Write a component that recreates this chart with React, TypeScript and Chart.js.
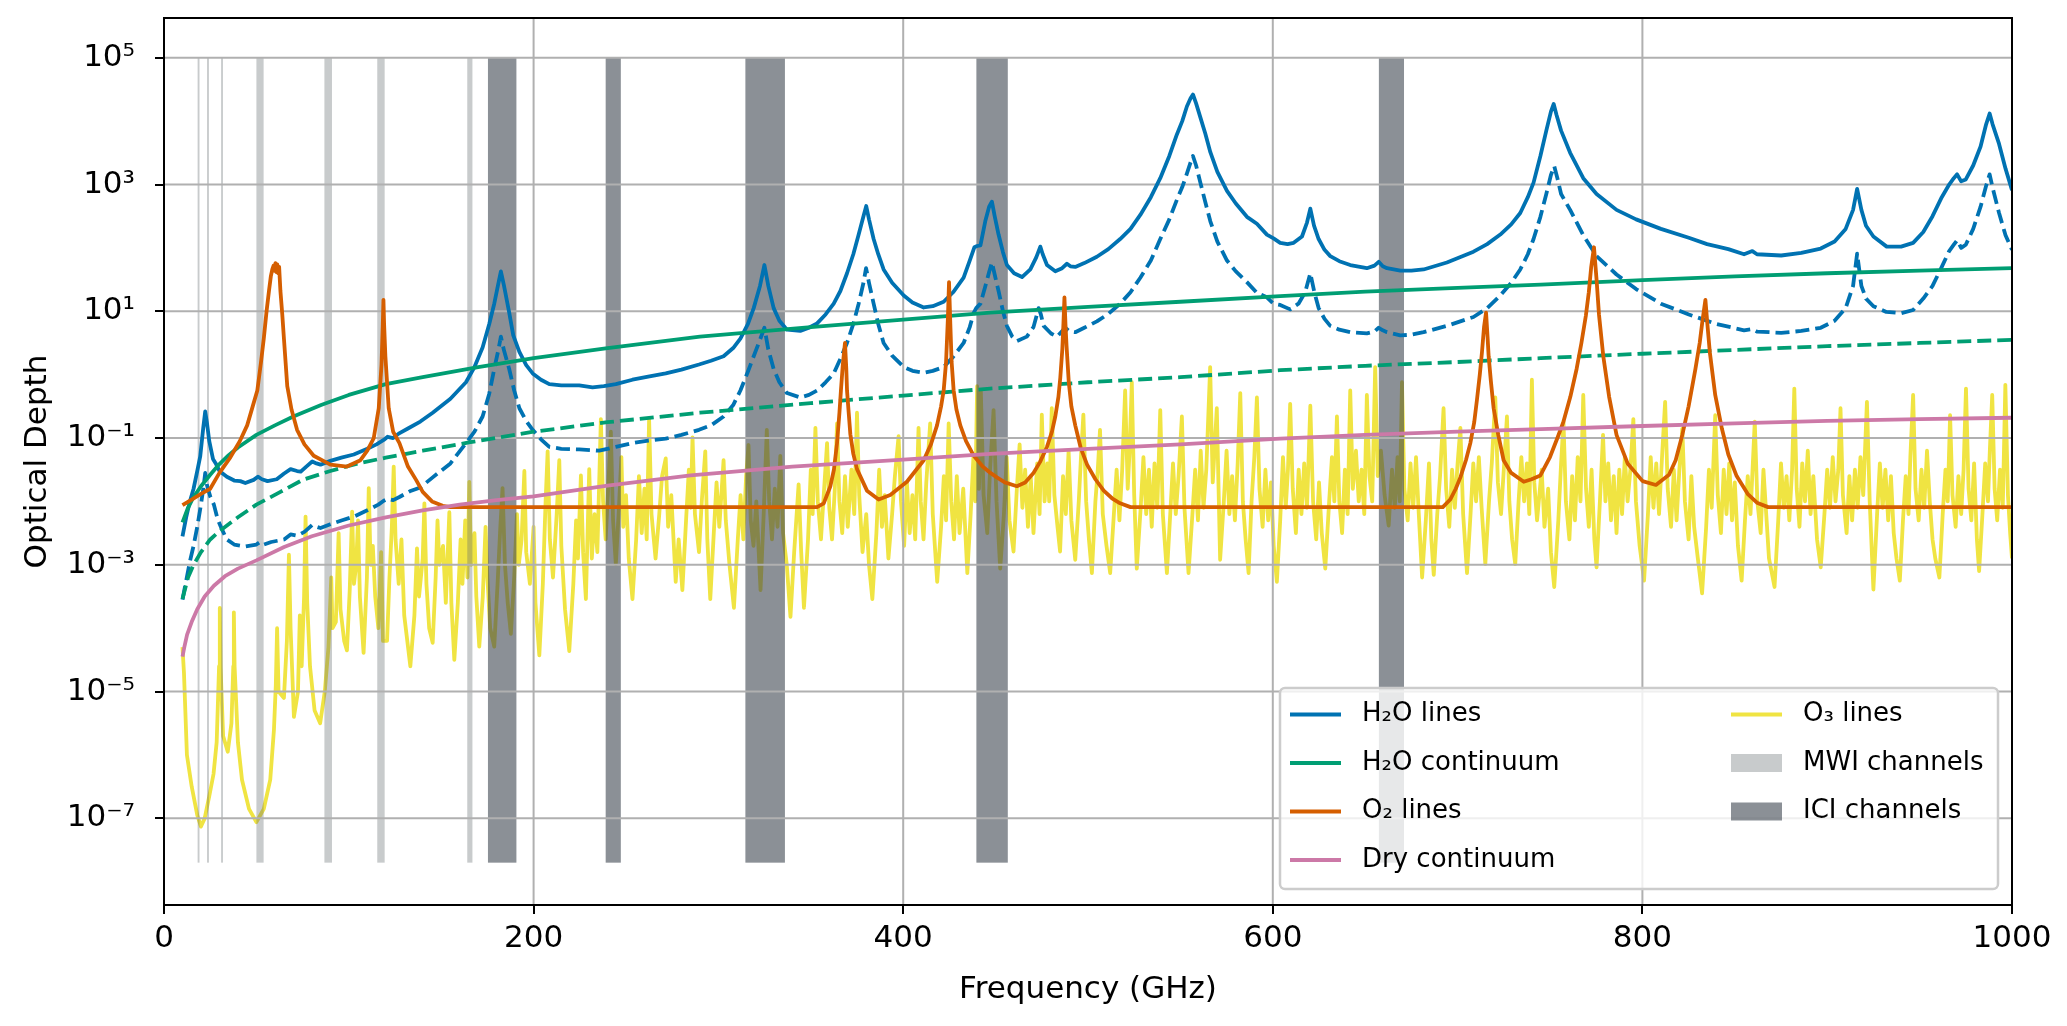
import { useEffect, useRef } from "react"
import { Chart, registerables } from "chart.js"

Chart.register(...registerables)

// each curve: [frequency (GHz), log10 of optical depth]
type Pair = [number, number]

const xTicks = [0, 200, 400, 600, 800, 1000]
const yTickExponents = [-7, -5, -3, -1, 1, 3, 5]
const yTickLabels = ["10⁻⁷", "10⁻⁵", "10⁻³", "10⁻¹", "10¹", "10³", "10⁵"]

const h2oLines: Pair[] = [
  [10, -2.55], [12, -2.25], [14, -2.0], [16, -1.8], [18, -1.52], [19.6, -1.29], [21.2, -0.85], [22.3, -0.58],
  [23.2, -0.75], [24.5, -1.05], [26.5, -1.33], [28, -1.4], [30, -1.52], [34, -1.61], [38, -1.67], [41.3, -1.68],
  [44, -1.71], [48.5, -1.66], [50.8, -1.61], [53, -1.65], [56, -1.68], [61, -1.65], [65, -1.56], [68.5, -1.49],
  [72, -1.52], [74, -1.53], [77, -1.45], [80.2, -1.37], [82.5, -1.4], [84.7, -1.42], [90, -1.36], [96, -1.31],
  [102.7, -1.26], [110, -1.17], [115, -1.1], [118.9, -1.03], [121, -0.98], [124, -1.0], [127, -0.93], [132, -0.85],
  [138.7, -0.74], [145.4, -0.6], [155, -0.38], [163.4, -0.12], [168, 0.12], [172.4, 0.43], [176, 0.8], [178.7, 1.12],
  [181, 1.45], [182.3, 1.63], [184, 1.4], [186.8, 0.98], [189, 0.62], [192.3, 0.36], [196, 0.15], [199.5, 0.02],
  [204, -0.08], [208.5, -0.15], [215, -0.17], [224.7, -0.17], [231.9, -0.2], [238, -0.18], [244.5, -0.15],
  [253.5, -0.08], [262, -0.03], [271.5, 0.02], [280, 0.08], [289.5, 0.16], [296, 0.22], [302.8, 0.29], [308, 0.42],
  [311.9, 0.57], [316, 0.8], [319.1, 1.05], [322.5, 1.4], [324.9, 1.73], [327, 1.4], [329.9, 1.05], [333, 0.85],
  [337.1, 0.71], [344.3, 0.69], [349, 0.74], [353.4, 0.81], [358, 0.95], [362.4, 1.12], [366, 1.32], [369.6, 1.6],
  [373, 1.9], [375.9, 2.21], [378.5, 2.5], [380, 2.66], [381.5, 2.45], [384, 2.14], [386.5, 1.9], [389.4, 1.66],
  [394, 1.45], [400.3, 1.25], [405, 1.14], [411.1, 1.06], [416, 1.08], [421.9, 1.15], [427, 1.3], [432.7, 1.53],
  [436, 1.8], [438.5, 2.01], [440, 2.03], [441.8, 2.04], [444.4, 2.42], [446.5, 2.65], [448, 2.73], [449.5, 2.5],
  [451.6, 2.21], [454, 1.93], [456.1, 1.73], [460, 1.6], [464.3, 1.54], [468.8, 1.66], [472, 1.85], [474.2, 2.02],
  [475.5, 1.9], [477.8, 1.73], [482.3, 1.63], [486, 1.68], [488.6, 1.75], [490.5, 1.71], [493.1, 1.7], [498, 1.76],
  [504.8, 1.86], [511, 1.98], [517.4, 2.14], [523, 2.3], [528.3, 2.52], [534, 2.8], [539.1, 3.1], [544, 3.45],
  [548.1, 3.79], [551, 4.0], [553.5, 4.23], [555.5, 4.36], [556.8, 4.42], [558.5, 4.28], [560.8, 4.06], [563.5, 3.8],
  [566.2, 3.51], [570, 3.2], [575.2, 2.9], [580, 2.7], [586, 2.49], [591.4, 2.38], [596.8, 2.21], [600.4, 2.15],
  [604, 2.08], [608, 2.06], [611.3, 2.08], [615.8, 2.18], [618.5, 2.4], [620.3, 2.62], [622.3, 2.35], [624.8, 2.14],
  [628, 1.97], [631.1, 1.87], [636, 1.79], [641.9, 1.73], [650.9, 1.68], [655, 1.72], [657.3, 1.78], [659.5, 1.71],
  [661.8, 1.68], [669, 1.64], [675, 1.64], [681.6, 1.66], [694.2, 1.77], [708.6, 1.94], [716, 2.06], [723.1, 2.21],
  [729, 2.37], [733.9, 2.55], [738, 2.8], [741.1, 3.03], [744.8, 3.45], [748, 3.85], [750.5, 4.15], [752, 4.27],
  [753.5, 4.1], [756, 3.85], [760.9, 3.5], [768, 3.1], [775.2, 2.85], [786, 2.6], [796.6, 2.45], [810, 2.3],
  [825.1, 2.16], [835, 2.06], [846.5, 1.98], [855, 1.9], [859.5, 1.95], [862, 1.9], [875.1, 1.88], [886, 1.92],
  [896.5, 1.99], [904, 2.1], [910, 2.3], [914, 2.6], [916.2, 2.93], [918.5, 2.6], [921, 2.35], [925, 2.18],
  [932.2, 2.02], [940, 2.02], [946.5, 2.08], [952, 2.25], [957, 2.5], [962, 2.8], [966, 3.0], [968.5, 3.1],
  [970.3, 3.16], [972.5, 3.05], [975, 3.08], [979, 3.3], [983, 3.6], [986, 3.95], [987.9, 4.12], [989.5, 3.95],
  [993, 3.64], [996.5, 3.25], [1000, 2.91],
]

const h2oLinesDashed: Pair[] = [
  [10, -3.55], [12, -3.25], [14, -2.95], [16, -2.7], [18, -2.4], [20, -2.05], [21.5, -1.75], [22.3, -1.55],
  [23.3, -1.75], [25, -1.92], [27, -2.05], [29, -2.28], [31.5, -2.45], [34, -2.6], [38, -2.68], [44, -2.71],
  [50, -2.68], [52, -2.64], [54, -2.68], [58, -2.64], [65, -2.6], [68.5, -2.52], [72, -2.54], [76, -2.48],
  [80.2, -2.37], [82.5, -2.4], [84.7, -2.42], [90, -2.36], [96, -2.3], [102.7, -2.24], [110, -2.14], [116, -2.05],
  [118.9, -1.99], [121, -1.96], [124, -1.98], [127.4, -1.93], [133, -1.84], [138.7, -1.78], [145.4, -1.62],
  [155, -1.4], [163.4, -1.08], [168, -0.9], [172.4, -0.66], [176, -0.3], [178.7, 0.09], [181, 0.4], [182.3, 0.6],
  [184, 0.38], [186.8, 0.09], [189.5, -0.25], [192.3, -0.53], [196, -0.73], [199.5, -0.87], [204, -1.02],
  [208.5, -1.14], [215, -1.17], [224.7, -1.18], [235.5, -1.2], [244.5, -1.14], [253.5, -1.08], [262, -1.04],
  [271.5, -1.01], [280, -0.95], [289.5, -0.87], [296, -0.8], [302.8, -0.66], [308, -0.48], [311.9, -0.25],
  [316, 0.05], [319.1, 0.29], [322.5, 0.55], [324.9, 0.74], [327, 0.4], [329.9, 0.09], [333, -0.12], [337.1, -0.29],
  [344.3, -0.36], [349, -0.32], [353.4, -0.25], [358, -0.12], [362.4, 0.02], [366, 0.25], [369.6, 0.5], [373, 0.8],
  [375.9, 1.12], [378.5, 1.45], [379.9, 1.68], [381.5, 1.45], [384, 1.12], [386.5, 0.8], [389.4, 0.5], [394, 0.3],
  [400.3, 0.12], [405, 0.06], [411.1, 0.03], [416, 0.06], [421.9, 0.12], [427, 0.28], [432.7, 0.5], [436, 0.75],
  [438.2, 0.98], [439.5, 1.05], [441.8, 1.12], [444.4, 1.39], [446.5, 1.62], [448, 1.77], [449.5, 1.58],
  [451.6, 1.32], [454, 1.0], [456.1, 0.77], [459, 0.6], [461.5, 0.53], [466.9, 0.6], [470.5, 0.75], [473.3, 1.05],
  [474.5, 0.95], [476, 0.77], [480, 0.65], [483.2, 0.6], [487.7, 0.74], [490, 0.68], [493.1, 0.67], [498, 0.74],
  [504.8, 0.84], [511, 0.96], [517.4, 1.12], [523, 1.3], [528.3, 1.53], [534, 1.8], [539.1, 2.14], [544, 2.45],
  [548.1, 2.76], [551, 2.96], [553.5, 3.17], [555.5, 3.35], [556.8, 3.45], [558.5, 3.3], [560.8, 3.03],
  [563.5, 2.72], [566.2, 2.42], [570, 2.1], [575.2, 1.8], [580, 1.63], [586, 1.46], [591.4, 1.29], [596.8, 1.22],
  [600.4, 1.12], [604, 1.1], [609.4, 1.03], [613.9, 1.12], [617.5, 1.3], [620.3, 1.6], [622.5, 1.3], [624.8, 1.05],
  [628, 0.88], [631.1, 0.77], [636, 0.71], [641.9, 0.67], [650.9, 0.65], [655, 0.68], [657.3, 0.74], [659.5, 0.7],
  [661.8, 0.67], [669, 0.62], [675, 0.63], [681.6, 0.67], [694.2, 0.77], [708.6, 0.91], [716, 1.05], [723.1, 1.25],
  [729, 1.45], [733.9, 1.66], [738, 1.9], [741.1, 2.14], [744.8, 2.49], [748, 2.85], [750.5, 3.15], [752.3, 3.29],
  [754, 3.1], [756, 2.85], [760.9, 2.6], [768, 2.2], [775.2, 1.87], [786, 1.58], [796.6, 1.35], [810, 1.12],
  [825.1, 0.95], [840, 0.8], [855, 0.7], [859.5, 0.72], [862, 0.68], [875.1, 0.66], [886, 0.69], [896.5, 0.74],
  [904, 0.85], [910, 1.05], [914, 1.4], [916.2, 1.91], [918.5, 1.4], [921, 1.2], [925, 1.08], [932, 0.99],
  [940, 0.97], [946.5, 1.02], [952, 1.2], [957, 1.4], [962, 1.7], [966, 1.95], [968.5, 2.05], [970.3, 2.12],
  [972.5, 2.0], [975, 2.05], [979, 2.3], [983, 2.65], [986, 2.98], [987.9, 3.16], [989.5, 2.95], [993, 2.55],
  [996.5, 2.2], [1000, 1.97],
]

const h2oContinuum: Pair[] = [
  [10, -2.33], [13, -2.1], [16, -1.93], [20, -1.76], [25, -1.58], [30, -1.41], [35, -1.27], [40, -1.15],
  [50, -0.95], [60, -0.8], [70, -0.66], [85, -0.48], [100, -0.32], [120, -0.15], [140, -0.04], [170, 0.12],
  [200, 0.26], [240, 0.42], [290, 0.6], [350, 0.75], [400, 0.87], [447, 0.98], [500, 1.07], [550, 1.15],
  [604, 1.24], [650, 1.31], [700, 1.37], [745, 1.42], [800, 1.49], [850, 1.55], [900, 1.6], [950, 1.64],
  [1000, 1.68],
]

const h2oContinuumDashed: Pair[] = [
  [10, -3.54], [13, -3.2], [16, -3.0], [20, -2.8], [25, -2.6], [30, -2.47], [40, -2.25], [50, -2.05],
  [63, -1.85], [75, -1.66], [90, -1.52], [105, -1.4], [120, -1.31], [140, -1.2], [165, -1.07], [200, -0.9],
  [240, -0.75], [290, -0.6], [350, -0.45], [400, -0.33], [447, -0.22], [500, -0.12], [550, -0.04], [604, 0.07],
  [650, 0.14], [700, 0.2], [745, 0.26], [800, 0.33], [850, 0.39], [900, 0.45], [950, 0.5], [1000, 0.55],
]

const o2Lines: Pair[] = [
  [10, -2.06], [15, -1.97], [20, -1.88], [25, -1.8], [30, -1.55], [36, -1.3], [41, -1.05], [45, -0.8],
  [48, -0.5], [50.5, -0.25], [52.5, 0.2], [54, 0.57], [55.5, 1.0], [56.8, 1.32], [57.8, 1.55], [58.6, 1.66],
  [59.3, 1.72], [59.8, 1.64], [60.3, 1.76], [60.8, 1.62], [61.3, 1.74], [61.8, 1.6], [62.3, 1.7], [63, 1.32],
  [64, 0.95], [64.9, 0.57], [66.7, -0.18], [69, -0.55], [72, -0.87], [76, -1.1], [81, -1.28], [90, -1.42],
  [99, -1.45], [106.3, -1.35], [110, -1.2], [113.5, -1.0], [116.2, -0.53], [117.7, 0.16], [118.4, 0.8],
  [118.75, 1.18], [119.1, 0.8], [119.8, 0.29], [121.6, -0.53], [124, -0.9], [127.4, -1.08], [132, -1.45],
  [136.4, -1.66], [140, -1.85], [145, -2.0], [150.8, -2.07], [155, -2.09], [353.4, -2.09], [357, -2.03],
  [360.6, -1.76], [362.5, -1.5], [364.2, -1.08], [365.5, -0.6], [366.3, -0.25], [367.3, 0.15], [368.5, 0.5],
  [369.2, 0.1], [369.6, -0.25], [370.5, -0.6], [371.4, -0.94], [373, -1.25], [375, -1.49], [380.4, -1.83],
  [386.7, -1.97], [393, -1.9], [402, -1.69], [411.1, -1.35], [415, -1.1], [418.3, -0.8], [420.5, -0.5],
  [421.9, -0.25], [423.2, 0.2], [424.2, 0.9], [424.8, 1.46], [425.5, 0.8], [426.2, 0.2], [427.3, -0.25],
  [428.8, -0.55], [430.9, -0.8], [434, -1.05], [438.2, -1.28], [443, -1.45], [447.2, -1.55], [450.7, -1.62],
  [455, -1.7], [461.5, -1.76], [466, -1.7], [470.5, -1.55], [474, -1.38], [477.8, -1.14], [480.5, -0.9],
  [482.3, -0.66], [484, -0.35], [485, -0.05], [486.1, 0.4], [486.7, 0.8], [487.25, 1.22], [487.8, 0.8],
  [488.4, 0.45], [489.6, -0.12], [491, -0.5], [493.1, -0.8], [496, -1.15], [499.5, -1.42], [504, -1.65],
  [508.5, -1.83], [513, -1.95], [517.4, -2.03], [523, -2.09], [692, -2.09], [696, -1.97], [699, -1.8],
  [701.5, -1.62], [704.5, -1.35], [706.9, -1.08], [709, -0.75], [710.5, -0.39], [712, 0.0], [713.2, 0.36],
  [714.3, 0.75], [715.4, 0.98], [716.2, 0.6], [716.8, 0.29], [718, -0.1], [719.5, -0.53], [722, -0.95],
  [724.9, -1.35], [729, -1.55], [735.8, -1.69], [740, -1.65], [744.8, -1.59], [750, -1.3], [754, -1.0],
  [757.3, -0.74], [761, -0.35], [764.4, 0.09], [767, 0.5], [769.4, 0.93], [771, 1.3], [772.3, 1.7],
  [773.8, 2.01], [775.2, 1.5], [776.5, 0.95], [778.8, 0.3], [782, -0.35], [786, -0.95], [792, -1.4],
  [800.1, -1.68], [807.3, -1.74], [814.4, -1.58], [818, -1.35], [821.6, -0.95], [825, -0.5], [828.7, 0.09],
  [831, 0.5], [832.5, 0.85], [834.1, 1.18], [835.3, 0.75], [836.5, 0.35], [839.4, -0.32], [843, -0.85],
  [846.5, -1.26], [851, -1.6], [857.2, -1.89], [862, -2.02], [868, -2.09], [1000, -2.09],
]

const dryContinuum: Pair[] = [
  [10, -4.45], [11, -4.3], [12.5, -4.1], [15, -3.9], [18, -3.7], [22, -3.5], [27, -3.33], [33, -3.18],
  [40, -3.06], [50, -2.93], [65, -2.72], [80, -2.55], [100, -2.38], [120, -2.25], [140, -2.14], [160, -2.05],
  [180, -1.98], [200, -1.92], [240, -1.75], [285, -1.59], [340, -1.45], [400, -1.34], [447, -1.25], [500, -1.17],
  [550, -1.1], [604, -1.01], [650, -0.95], [700, -0.9], [745, -0.86], [800, -0.81], [850, -0.77], [900, -0.73],
  [950, -0.7], [1000, -0.68],
]

const o3Lines: Pair[] = [
  [10, -4.3], [10.8, -4.7], [12.4, -6.0], [15, -6.5], [18, -6.95], [20, -7.13], [22, -7.0], [24.5, -6.65],
  [26.8, -6.3], [28.5, -5.8], [29.8, -4.6], [30.2, -3.68], [30.6, -4.6], [32, -5.7], [34.5, -5.95], [36.5, -5.5],
  [37.5, -4.6], [37.8, -3.75], [38.2, -4.6], [40, -5.8], [42.2, -6.39], [46, -6.85], [50, -7.06], [54, -6.85],
  [57.5, -6.39], [59.5, -5.6], [60.5, -4.9], [61.2, -4.0], [62, -5.0], [64.9, -5.1], [66.5, -4.2], [67.6, -2.84],
  [68.5, -4.0], [70.3, -5.4], [72.5, -5.0], [73.5, -3.8], [74.5, -4.6], [75.8, -3.5], [76.6, -2.24], [77.5, -3.6],
  [79, -4.6], [81.5, -5.3], [84.5, -5.5], [87, -5.0], [89, -4.3], [90.5, -3.2], [91.2, -4.0], [93, -3.9],
  [94.5, -2.5], [95.5, -3.7], [97.5, -4.2], [99, -4.35], [100.5, -3.4], [101.8, -2.16], [102.8, -3.3], [104, -3.0],
  [105, -2.3], [106, -3.5], [108, -4.39], [109.8, -3.2], [110.8, -1.79], [111.8, -3.0], [113, -2.7], [114.3, -3.5],
  [116, -4.0], [117.5, -2.8], [118.5, -4.2], [120.7, -4.2], [122, -3.2], [123.3, -2.4], [124.3, -1.45],
  [125.3, -2.6], [127, -3.3], [128.5, -2.6], [130, -3.8], [133.3, -4.6], [135.5, -3.8], [136.9, -2.74], [138, -3.5],
  [140, -2.9], [140.9, -2.03], [142, -3.3], [143.5, -4.0], [145.4, -4.23], [147, -3.2], [148, -2.3], [149, -3.0],
  [151, -2.7], [152.5, -3.6], [154.4, -2.17], [155.5, -3.6], [157.1, -4.5], [159, -3.6], [160.5, -2.6],
  [161.5, -3.3], [163, -2.3], [164.2, -3.2], [165.2, -1.69], [166.2, -3.0], [168, -2.5], [169, -3.5],
  [170.6, -4.29], [172.5, -3.5], [174, -2.4], [175, -3.2], [176.5, -4.0], [178.7, -4.29], [180.5, -3.3],
  [182, -2.4], [183.2, -1.79], [184.5, -3.0], [186, -3.6], [187.7, -4.09], [189.5, -3.2], [191, -2.2], [192, -3.0],
  [193.5, -2.6], [195, -1.52], [196, -2.8], [198, -3.3], [200, -2.4], [201, -3.6], [203.1, -4.43], [205, -3.3],
  [206.5, -2.0], [207.6, -1.21], [208.8, -2.6], [210.5, -3.2], [212.5, -2.2], [213.9, -1.35], [215, -2.7],
  [217, -3.7], [219.3, -4.36], [221.5, -3.3], [223, -2.3], [224, -2.9], [225.6, -1.59], [226.8, -2.8],
  [228.3, -3.54], [230.1, -1.49], [231.5, -2.9], [233, -2.2], [234.5, -2.8], [236.4, -0.7], [237.6, -2.0],
  [239, -2.6], [240.5, -1.7], [241.8, -0.9], [243, -2.3], [244.5, -2.99], [246, -2.2], [247.5, -1.3],
  [248.5, -2.4], [250, -1.9], [251.5, -2.9], [253.5, -3.54], [255.5, -2.6], [257, -1.6], [258.5, -2.5],
  [260, -1.8], [261.2, -2.6], [262.5, -0.7], [263.8, -2.2], [266, -2.9], [268, -2.2], [269.5, -1.6],
  [271.5, -1.32], [272.8, -2.4], [274.5, -1.9], [276.9, -3.27], [278.5, -2.6], [280.5, -3.4], [282.5, -2.3],
  [284, -1.5], [285, -2.1], [286, -0.99], [287.3, -2.2], [289.5, -2.8], [291, -2.0], [292.9, -1.21], [294, -2.6],
  [295.6, -3.54], [297.5, -2.5], [299, -1.7], [300.5, -2.4], [302.8, -1.35], [304, -2.3], [306, -3.0],
  [308.4, -3.68], [310.5, -2.6], [312, -1.9], [313.5, -2.6], [315, -1.6], [316.3, -1.11], [317.5, -2.3],
  [319, -2.7], [320.5, -2.0], [322.8, -3.4], [324.5, -2.2], [326.2, -0.87], [327.5, -2.0], [329, -2.6],
  [330.5, -1.8], [332, -2.4], [333.5, -1.28], [335, -2.5], [337, -3.0], [339, -3.82], [341, -2.8], [343.4, -1.73],
  [344.8, -2.8], [346.3, -3.68], [348.5, -2.6], [350, -1.5], [351, -2.2], [352.5, -0.84], [353.8, -2.0],
  [355.5, -2.6], [357, -1.9], [358.8, -1.08], [360, -2.1], [361.5, -2.6], [363, -1.8], [364.2, -0.77],
  [365.5, -2.0], [367, -2.5], [368.5, -1.6], [370, -2.4], [372, -1.5], [373.5, -2.2], [375, -0.6], [376.2, -1.9],
  [378, -2.8], [380, -2.2], [381.5, -3.0], [383.3, -3.54], [385.5, -2.5], [387, -1.5], [388.5, -2.4], [390, -1.9],
  [392, -2.9], [394, -2.2], [395.5, -1.6], [397.5, -0.97], [398.8, -2.0], [400.5, -2.7], [402, -1.7],
  [403.5, -2.5], [405, -1.9], [406.5, -2.6], [408.3, -0.84], [409.5, -2.0], [411, -2.6], [412.5, -1.7],
  [414.6, -0.77], [416, -2.2], [418.4, -3.27], [420.5, -2.4], [422, -1.6], [423.2, -2.3], [424.6, -0.77],
  [426, -2.0], [427.5, -2.6], [429, -1.6], [430.5, -2.5], [432.5, -1.8], [434.7, -3.13], [436.5, -2.2],
  [438, -1.3], [439, -2.0], [440, -0.18], [441, -1.8], [442, -0.25], [443.5, -1.9], [445.5, -2.5], [447, -1.5],
  [448.9, -0.56], [450.5, -2.0], [452.5, -3.06], [454.5, -2.2], [456, -1.3], [457.5, -2.3], [459.7, -2.79],
  [461.5, -1.8], [463, -1.1], [464.5, -2.1], [466, -1.5], [467.5, -2.4], [469, -1.6], [470.5, -2.5],
  [472.5, -1.4], [473.8, -2.2], [475, -0.63], [476.5, -2.0], [478, -1.4], [479, -2.0], [480.4, -0.53],
  [481.8, -1.9], [483.5, -2.4], [484.9, -2.79], [486.5, -1.6], [488, -2.2], [489.5, -1.2], [491, -2.3],
  [493.1, -2.92], [495, -2.0], [496.2, -1.3], [497.5, -0.63], [499, -2.0], [500.5, -2.6], [502.1, -3.13],
  [504, -2.0], [505.3, -1.5], [506.5, -0.87], [508, -2.2], [510, -2.7], [512, -3.13], [514, -2.2], [515.5, -1.5],
  [517, -2.3], [518.5, -1.5], [520.1, -0.25], [521.5, -1.8], [522.5, -1.2], [523.7, -0.12], [525, -1.9],
  [526.4, -3.06], [528.5, -2.1], [530, -1.3], [531.5, -2.2], [533, -1.5], [534.5, -2.4], [536, -1.4],
  [537.5, -2.1], [539.1, -0.56], [540.5, -2.2], [542.7, -3.13], [544.5, -2.2], [546, -1.4], [547.5, -2.2],
  [549, -1.6], [550.8, -0.66], [552.2, -2.1], [554.4, -3.13], [556.5, -2.2], [558, -1.5], [559.5, -2.3],
  [561, -1.2], [562.5, -2.1], [564, -1.5], [566.1, 0.12], [567.5, -1.7], [569.7, -0.53], [571.5, -2.92],
  [573.5, -2.0], [575, -1.2], [576.5, -2.2], [578, -1.6], [579.5, -2.3], [581, -1.4], [582.4, -0.29],
  [583.8, -2.0], [585.3, -2.6], [586.9, -3.13], [588.5, -2.0], [590, -1.3], [591.4, -0.36], [592.8, -1.8],
  [594.5, -2.4], [596, -1.5], [597.5, -2.3], [599, -1.7], [600.5, -2.7], [602.2, -3.27], [604, -2.3],
  [605.5, -1.3], [607, -2.1], [608.2, -1.5], [609.4, -0.46], [610.8, -1.8], [612.5, -2.5], [614, -1.5],
  [615.5, -2.2], [617, -1.4], [618.5, -2.1], [620.3, -0.49], [621.8, -2.0], [623.5, -2.6], [625, -1.7],
  [626.5, -2.5], [628.4, -3.06], [630.5, -2.0], [632, -1.3], [633.3, -2.0], [634.7, -0.66], [636, -2.0],
  [637.5, -2.5], [639, -1.5], [640.5, -2.2], [641.9, -0.25], [643.3, -1.8], [645, -1.2], [646.5, -2.0],
  [648, -1.5], [649.5, -2.2], [650.9, -0.32], [652.3, -1.6], [653.8, -2.0], [655.4, 0.12], [656.8, -1.6],
  [658.5, -1.2], [660.5, -1.9], [662.7, -2.38], [664.5, -1.5], [666, -2.1], [667.5, -1.3], [668.7, -2.0],
  [669.9, -0.12], [671.2, -1.8], [673, -2.3], [674.5, -1.4], [676, -2.1], [677.5, -1.3], [679, -2.2],
  [680.8, -3.2], [682.8, -2.3], [684.5, -1.4], [685.8, -2.6], [687.1, -3.16], [689, -2.2], [690.5, -1.6],
  [692.4, -0.53], [693.8, -1.8], [695.5, -2.4], [697, -1.5], [698.5, -2.1], [700, -1.4], [701.5, -0.84],
  [703, -2.2], [705.1, -3.13], [707, -2.2], [708.5, -1.4], [710, -2.0], [711.5, -1.3], [713, -2.1],
  [715, -2.99], [717, -2.0], [718.5, -1.4], [720.4, -0.36], [721.8, -1.7], [723.5, -2.2], [725, -1.5],
  [726.7, -0.66], [728, -2.0], [729.5, -2.6], [731.2, -2.99], [733, -2.0], [734.5, -1.3], [736, -2.0],
  [737.5, -1.4], [738.8, -2.2], [740.2, -0.08], [741.5, -1.7], [743, -2.3], [745.5, -1.5], [747, -2.4],
  [749, -1.8], [750.5, -2.8], [752.3, -3.35], [754.5, -2.3], [756, -1.4], [757.3, -0.74], [758.6, -2.0],
  [760.5, -2.6], [762, -1.6], [763.5, -2.3], [765, -1.3], [766.5, -2.0], [768, -0.32], [769.5, -1.8],
  [771, -2.4], [772.5, -1.5], [774, -2.6], [775.2, -3.04], [777, -2.0], [778.7, -0.95], [780, -2.0],
  [781.5, -1.4], [783, -2.3], [784.5, -1.6], [786, -2.5], [787.5, -1.5], [789, -2.2], [790.5, -1.3], [792, -2.0],
  [793.5, -1.5], [795.1, -0.7], [796.5, -2.0], [798.5, -2.7], [800.9, -3.25], [803, -2.2], [804.5, -1.3],
  [806, -2.1], [807.5, -1.4], [809, -2.2], [810.8, -1.2], [812.3, -0.43], [813.7, -1.8], [815.5, -2.4],
  [817, -1.5], [818.5, -2.3], [820, -1.5], [821.6, -0.85], [823, -2.0], [825, -2.6], [826.5, -1.6], [828, -2.4],
  [830, -2.9], [832.3, -3.45], [834.5, -2.4], [836, -1.5], [837.5, -2.1], [839.4, -0.64], [840.8, -1.9],
  [842.5, -2.5], [844, -1.5], [845.5, -2.2], [847, -1.4], [848.5, -2.3], [850, -1.7], [851.7, -2.7],
  [853.7, -3.25], [855.5, -2.3], [857, -1.6], [858.5, -2.2], [860.8, -0.74], [862.2, -2.0], [864, -2.5],
  [865.5, -1.5], [867, -2.2], [868.5, -2.9], [871.5, -3.35], [873.5, -2.3], [875, -1.4], [876.5, -2.1],
  [878, -1.6], [879.5, -2.3], [881, -1.5], [882.2, -0.22], [883.5, -1.8], [885, -2.4], [886.5, -1.4], [888, -2.0],
  [889.5, -1.2], [891, -2.2], [892.5, -1.6], [894.5, -2.6], [896.5, -3.04], [898.5, -2.2], [900, -1.5],
  [901.5, -2.1], [903, -1.3], [904.5, -2.0], [906, -1.5], [907.2, -0.53], [908.5, -1.9], [910.5, -2.5],
  [912, -1.6], [913.5, -2.3], [915, -1.5], [916.5, -2.1], [918, -1.3], [919.5, -1.9], [921.5, -0.43], [923, -2.0],
  [925, -3.39], [927, -2.2], [928.5, -1.4], [930, -2.1], [931.5, -1.5], [933, -2.3], [934.5, -1.6], [936, -2.5],
  [937.5, -2.9], [939.3, -3.25], [941, -2.3], [942.5, -1.6], [944, -2.2], [945, -1.3], [946.5, -0.32],
  [947.8, -1.8], [949.5, -2.3], [951, -1.5], [952.5, -2.1], [954, -1.2], [955.5, -2.0], [957, -2.6],
  [958.5, -2.9], [960.7, -3.2], [962.5, -2.2], [964, -1.5], [965.2, -2.0], [966.5, -0.64], [967.8, -1.9],
  [969.5, -2.4], [971, -1.6], [972.5, -2.2], [973.8, -1.5], [975.1, -0.22], [976.5, -1.8], [978, -2.3],
  [979.5, -1.4], [981, -2.6], [982.2, -3.1], [984, -2.2], [985.5, -1.4], [987, -2.0], [988, -1.2],
  [989.3, -0.32], [990.6, -1.8], [992, -2.3], [993.5, -1.5], [995, -2.1], [996.4, -0.16], [997.8, -1.9],
  [999, -2.5], [1000, -2.9],
]

// instrument channel bands: [low, high] in GHz
const mwiChannels: Pair[] = [
  [18.2, 19.2], [23.3, 24.3], [30.9, 31.9], [50.0, 53.9], [86.8, 90.9], [115.4, 119.4], [164.1, 166.9],
]
const iciChannels: Pair[] = [
  [175.3, 190.7], [239.0, 247.2], [314.6, 336.0], [439.6, 456.6], [657.4, 671.0],
]
const channelBottom = 2e-8
const channelTop = 1e5

const BLUE = "#0072B2"
const GREEN = "#009E73"
const ORANGE = "#D55E00"
const PINK = "#CC79A7"
const YELLOW = "#F0E442"
const MWI_FILL = "rgba(98, 106, 109, 0.35)"
const ICI_FILL = "rgba(62, 70, 80, 0.6)"
const FONT = "'DejaVu Sans', sans-serif"
const AXIS_FONT = 31
const LEGEND_FONT = 26
const LINE_W = 3.8
const DASH = [14, 6]

const toXY = (pairs: Pair[]) => pairs.map(([f, lg]) => ({ x: f, y: 10 ** lg }))

const legendEntries = [
  { label: "H₂O lines", kind: "line", color: BLUE, col: 0, row: 0 },
  { label: "H₂O continuum", kind: "line", color: GREEN, col: 0, row: 1 },
  { label: "O₂ lines", kind: "line", color: ORANGE, col: 0, row: 2 },
  { label: "Dry continuum", kind: "line", color: PINK, col: 0, row: 3 },
  { label: "O₃ lines", kind: "line", color: YELLOW, col: 1, row: 0 },
  { label: "MWI channels", kind: "patch", color: MWI_FILL, col: 1, row: 1 },
  { label: "ICI channels", kind: "patch", color: ICI_FILL, col: 1, row: 2 },
]

const overlayPlugin = {
  id: "overlay",
  // bands and grid go right above the O3 curve (dataset 0) and below the other curves
  afterDatasetDraw(chart: any, args: any) {
    if (args.index !== 0) return
    const { ctx, chartArea: a } = chart
    const x = chart.scales.x
    const y = chart.scales.y
    ctx.save()
    ctx.beginPath()
    ctx.rect(a.left, a.top, a.right - a.left, a.bottom - a.top)
    ctx.clip()
    const yTop = y.getPixelForValue(channelTop)
    const yBot = y.getPixelForValue(channelBottom)
    const drawBands = (list: Pair[], color: string) => {
      ctx.fillStyle = color
      for (const [lo, hi] of list) {
        const x0 = x.getPixelForValue(lo)
        const x1 = x.getPixelForValue(hi)
        ctx.fillRect(x0, yTop, x1 - x0, yBot - yTop)
      }
    }
    drawBands(mwiChannels, MWI_FILL)
    drawBands(iciChannels, ICI_FILL)

    ctx.strokeStyle = "#b0b0b0"
    ctx.lineWidth = 2
    for (const t of x.ticks) {
      const px = x.getPixelForValue(t.value)
      ctx.beginPath()
      ctx.moveTo(px, a.top)
      ctx.lineTo(px, a.bottom)
      ctx.stroke()
    }
    for (const t of y.ticks) {
      const py = y.getPixelForValue(t.value)
      ctx.beginPath()
      ctx.moveTo(a.left, py)
      ctx.lineTo(a.right, py)
      ctx.stroke()
    }
    ctx.restore()
  },
  afterDraw(chart: any) {
    const { ctx, chartArea: a } = chart
    ctx.save()
    // axes frame
    ctx.strokeStyle = "#000"
    ctx.lineWidth = 2
    ctx.strokeRect(a.left, a.top, a.right - a.left, a.bottom - a.top)

    // legend box, lower right
    const w = 718
    const h = 201
    const lx = a.right - 14 - w
    const ly = a.bottom - 16 - h
    ctx.beginPath()
    ctx.roundRect(lx, ly, w, h, 5)
    ctx.fillStyle = "rgba(255,255,255,0.8)"
    ctx.fill()
    ctx.strokeStyle = "#cccccc"
    ctx.lineWidth = 2.5
    ctx.stroke()

    ctx.font = `${LEGEND_FONT}px ${FONT}`
    ctx.textBaseline = "middle"
    ctx.textAlign = "left"
    for (const e of legendEntries) {
      const hx = lx + (e.col === 0 ? 10 : 451)
      const cy = ly + 26.5 + e.row * 48.5
      if (e.kind === "line") {
        ctx.strokeStyle = e.color
        ctx.lineWidth = LINE_W
        ctx.beginPath()
        ctx.moveTo(hx, cy)
        ctx.lineTo(hx + 51, cy)
        ctx.stroke()
      } else {
        ctx.fillStyle = e.color
        ctx.fillRect(hx, cy - 9, 51, 18)
      }
      ctx.fillStyle = "#000"
      ctx.fillText(e.label, hx + 72, cy)
    }
    ctx.restore()
  },
}

export default function App() {
  const canvasRef = useRef<HTMLCanvasElement>(null)
  const chartRef = useRef<Chart | null>(null)

  useEffect(() => {
    document.body.style.margin = "0"
    document.body.style.overflow = "hidden"
    if (!canvasRef.current) return
    if (chartRef.current) chartRef.current.destroy()

    const line = {
      pointRadius: 0,
      borderWidth: LINE_W,
      tension: 0,
      fill: false,
      borderJoinStyle: "round" as const,
    }
    const tickFont = { family: FONT, size: AXIS_FONT }

    chartRef.current = new Chart(canvasRef.current, {
      type: "line",
      data: {
        datasets: [
          { label: "O₃ lines", data: toXY(o3Lines), borderColor: YELLOW, order: 20, ...line },
          { label: "H₂O lines", data: toXY(h2oLines), borderColor: BLUE, order: 8, ...line },
          { label: "H₂O lines (dashed)", data: toXY(h2oLinesDashed), borderColor: BLUE, borderDash: DASH, order: 7, ...line },
          { label: "H₂O continuum", data: toXY(h2oContinuum), borderColor: GREEN, order: 6, ...line },
          { label: "H₂O continuum (dashed)", data: toXY(h2oContinuumDashed), borderColor: GREEN, borderDash: DASH, order: 5, ...line },
          { label: "O₂ lines", data: toXY(o2Lines), borderColor: ORANGE, order: 4, ...line },
          { label: "Dry continuum", data: toXY(dryContinuum), borderColor: PINK, order: 3, ...line },
        ],
      },
      options: {
        responsive: false,
        devicePixelRatio: 1,
        animation: false,
        events: [],
        layout: { padding: { top: 18, right: 55, left: 0, bottom: 0 } },
        plugins: { legend: { display: false }, tooltip: { enabled: false } },
        scales: {
          x: {
            type: "linear",
            min: 0,
            max: 1000,
            afterBuildTicks: (s: any) => {
              s.ticks = xTicks.map((v) => ({ value: v }))
            },
            afterFit: (s: any) => {
              s.height = 121
              s.paddingLeft = 0
              s.paddingRight = 0
            },
            grid: { drawOnChartArea: false, drawTicks: true, tickLength: 9, tickColor: "#000", tickWidth: 2, lineWidth: 2 },
            border: { display: false },
            ticks: {
              color: "#000",
              padding: 6,
              maxRotation: 0,
              autoSkip: false,
              font: tickFont,
              callback: (v: any) => String(v),
            },
            title: {
              display: true,
              text: "Frequency (GHz)",
              color: "#000",
              font: tickFont,
              padding: { top: 0, bottom: 17 },
            },
          },
          y: {
            type: "logarithmic",
            bounds: "data",
            min: 10 ** -8.367,
            max: 10 ** 5.627,
            afterBuildTicks: (s: any) => {
              s.ticks = yTickExponents.map((e) => ({ value: 10 ** e }))
            },
            afterFit: (s: any) => {
              s.width = 164
              s.paddingTop = 0
              s.paddingBottom = 0
            },
            grid: { drawOnChartArea: false, drawTicks: true, tickLength: 9, tickColor: "#000", tickWidth: 2, lineWidth: 2 },
            border: { display: false },
            ticks: {
              color: "#000",
              padding: 20,
              autoSkip: false,
              font: tickFont,
              callback: (v: any) => {
                const i = yTickExponents.indexOf(Math.round(Math.log10(v)))
                return i >= 0 ? yTickLabels[i] : ""
              },
            },
            title: {
              display: true,
              text: "Optical Depth",
              color: "#000",
              font: tickFont,
              padding: { top: 19, bottom: 0 },
            },
          },
        },
      } as any,
      plugins: [overlayPlugin],
    })

    return () => {
      if (chartRef.current) {
        chartRef.current.destroy()
        chartRef.current = null
      }
    }
  }, [])

  return (
    <div style={{ width: 2067, height: 1026, background: "#fff" }}>
      <canvas ref={canvasRef} width={2067} height={1026} />
    </div>
  )
}
